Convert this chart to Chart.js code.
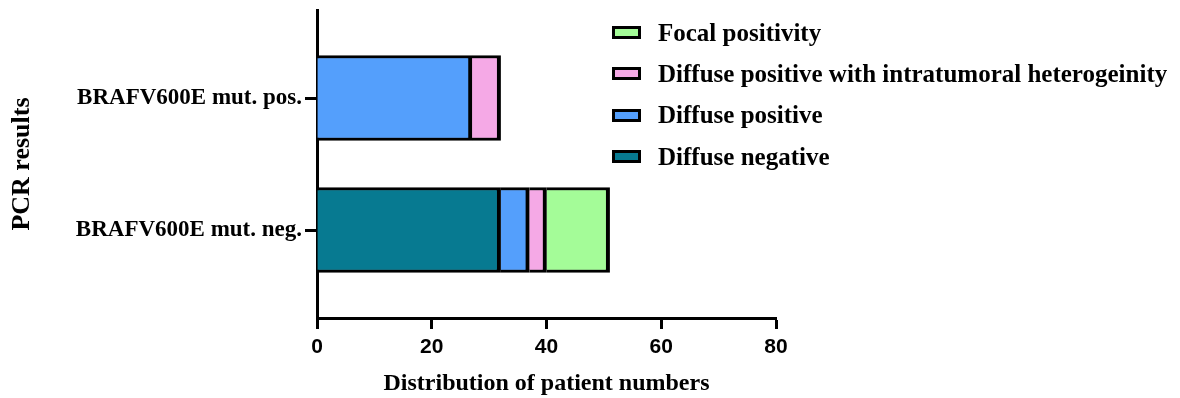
<!DOCTYPE html>
<html lang="en">
<head>
    <meta charset="UTF-8">
    <title>PCR results</title>
    <style>
        body {
            margin: 0;
            padding: 0;
            background: #ffffff;
        }
        .wrap {
            position: relative;
            width: 1180px;
            height: 398px;
        }
        #legend {
            position: absolute;
            left: 612px;
            top: 12px;
            font-family: "Liberation Serif", "Times New Roman", serif;
            font-weight: bold;
            font-size: 25px;
            color: #000;
        }
        #legend .item {
            display: flex;
            align-items: center;
            height: 41.3px;
            white-space: nowrap;
        }
        #legend .box {
            width: 23px;
            height: 7px;
            border: 3px solid #000;
            margin-right: 17px;
        }
    </style>
    <script src="https://cdn.jsdelivr.net/npm/chart.js"></script>
</head>
<body>
    <div class="wrap">
        <canvas id="pcrChart" width="1180" height="398"></canvas>
        <div id="legend"></div>
    </div>

    <script>
        // values
        const categories = ['BRAFV600E mut. pos.', 'BRAFV600E mut. neg.'];
        const diffuseNegative = [0, 32];
        const diffusePositive = [27, 5];
        const diffuseHetero = [5, 3];
        const focalPositivity = [0, 11];
        const xTicks = [0, 20, 40, 60, 80];

        const serif = '"Liberation Serif", "Times New Roman", serif';
        const sans = '"Liberation Sans", Arial, sans-serif';

        function punkte(values) {
            return values.map((v, i) => ({ y: i, x: v || null }));
        }

        function serie(label, values, color) {
            return {
                label: label,
                data: punkte(values),
                backgroundColor: color,
                borderColor: '#000000',
                borderWidth: { top: 3, bottom: 3, left: 0, right: 4 },
                borderSkipped: false,
                barThickness: 85
            };
        }

        const ctx = document.getElementById('pcrChart').getContext('2d');
        const chart = new Chart(ctx, {
            type: 'bar',
            data: {
                datasets: [
                    serie('Diffuse negative', diffuseNegative, '#077a91'),
                    serie('Diffuse positive', diffusePositive, '#549ffc'),
                    serie('Diffuse positive with intratumoral heterogeinity', diffuseHetero, '#f5a9e6'),
                    serie('Focal positivity', focalPositivity, '#a4fc98')
                ]
            },
            options: {
                indexAxis: 'y',
                responsive: false,
                animation: false,
                layout: {
                    padding: { top: 10, right: 404, left: 0, bottom: 0 }
                },
                plugins: {
                    legend: { display: false },
                    tooltip: { enabled: false }
                },
                scales: {
                    x: {
                        type: 'linear',
                        stacked: true,
                        min: xTicks[0],
                        max: xTicks[xTicks.length - 1],
                        afterBuildTicks: (scale) => {
                            scale.ticks = xTicks.map(v => ({ value: v }));
                        },
                        afterFit: (scale) => { scale.height = 80; },
                        grid: {
                            drawOnChartArea: false,
                            tickLength: 11,
                            tickWidth: 3,
                            tickColor: '#000000'
                        },
                        border: { display: true, width: 3, color: '#000000' },
                        ticks: {
                            color: '#000000',
                            padding: 6,
                            maxRotation: 0,
                            font: { family: sans, size: 21, weight: 'bold' }
                        },
                        title: {
                            display: true,
                            text: 'Distribution of patient numbers',
                            color: '#000000',
                            padding: { top: 2, bottom: 0 },
                            font: { family: serif, size: 24, weight: 'bold' }
                        }
                    },
                    y: {
                        type: 'linear',
                        stacked: true,
                        reverse: true,
                        offset: false,
                        min: -2 / 3,
                        max: categories.length - 1 + 2 / 3,
                        afterBuildTicks: (scale) => {
                            scale.ticks = categories.map((c, i) => ({ value: i }));
                        },
                        afterFit: (scale) => {
                            scale.width = 317;
                            scale.paddingTop = 0;
                            scale.paddingBottom = 0;
                        },
                        grid: {
                            offset: false,
                            drawOnChartArea: false,
                            tickLength: 12,
                            tickWidth: 3,
                            tickColor: '#000000'
                        },
                        border: { display: true, width: 3, color: '#000000' },
                        ticks: {
                            color: '#000000',
                            padding: 3,
                            callback: (v) => categories[v],
                            font: { family: serif, size: 23, weight: 'bold' }
                        },
                        title: {
                            display: true,
                            text: 'PCR results',
                            color: '#000000',
                            padding: { top: 7, bottom: 0 },
                            font: { family: serif, size: 26, weight: 'bold' }
                        }
                    }
                }
            }
        });

        // legend on the right, reversed like in the figure
        const legend = document.getElementById('legend');
        chart.data.datasets.slice().reverse().forEach(ds => {
            const item = document.createElement('div');
            item.className = 'item';
            const box = document.createElement('span');
            box.className = 'box';
            box.style.background = ds.backgroundColor;
            const txt = document.createElement('span');
            txt.textContent = ds.label;
            item.appendChild(box);
            item.appendChild(txt);
            legend.appendChild(item);
        });
    </script>
</body>
</html>
